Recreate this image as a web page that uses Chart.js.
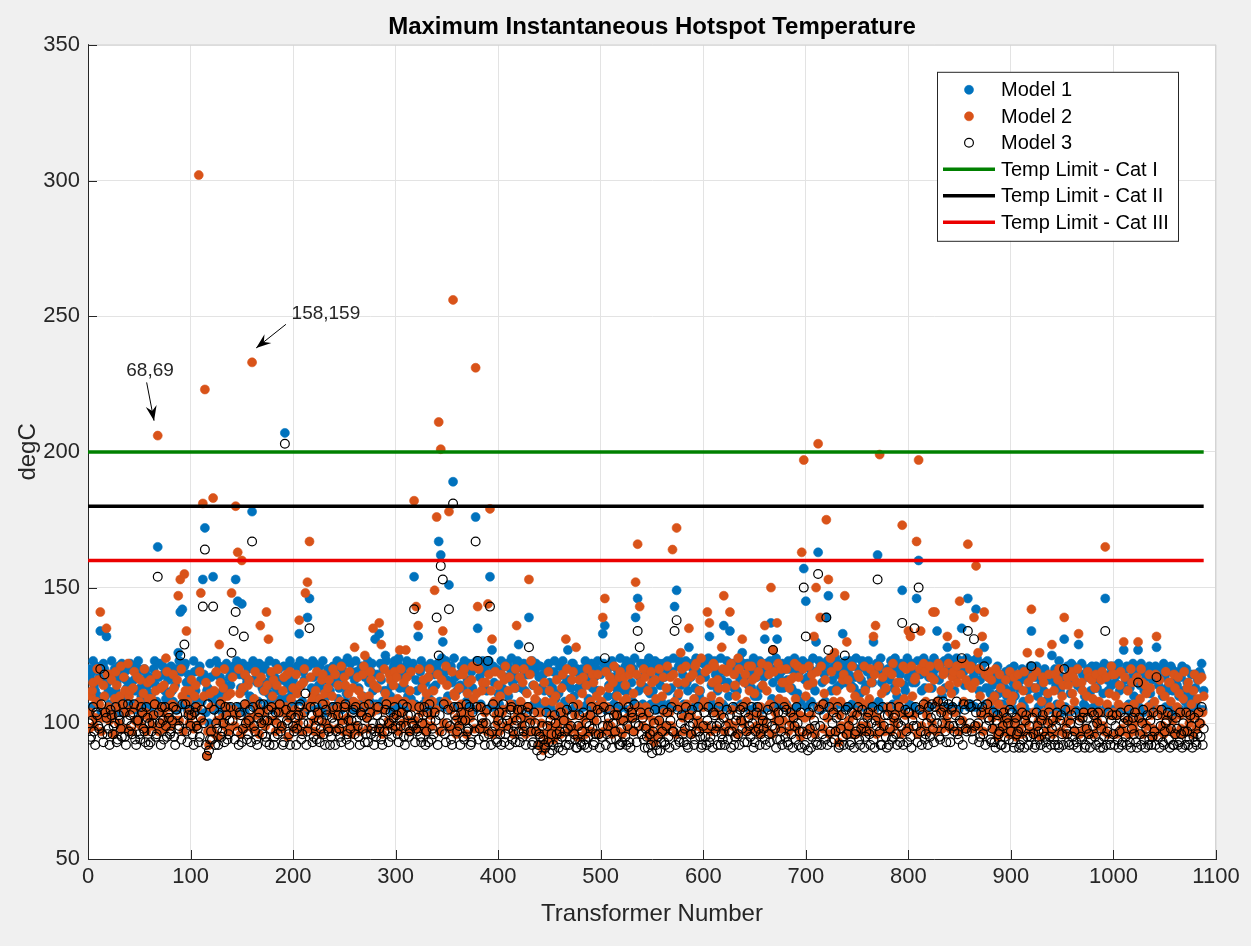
<!DOCTYPE html>
<html>
<head>
<meta charset="utf-8">
<title>Maximum Instantaneous Hotspot Temperature</title>
<script src="https://cdn.jsdelivr.net/npm/chart.js@4.4.1/dist/chart.umd.min.js"></script>
<style>
  html, body { margin: 0; padding: 0; background: #f0f0f0; }
  #wrap { width: 1251px; height: 946px; }
</style>
</head>
<body>
<div id="wrap"><canvas id="hotspotChart" width="1251" height="946"></canvas></div>
<script>
// values, degC
// *Odd arrays: transformers 1, 3, 5 ... 1087
// *Even arrays: transformers 2, 4, 6 ... 1088

const model1Odd = [
    120,106,123,112,108,117,104,122,110,115,
    107,123,105,112,118,104,122,109,116,106,
    122,107,116,105,123,113,106,120,108,111,
    106,116,123,108,117,105,121,112,107,119,
    121,108,114,105,123,119,107,122,105,116,
    106,123,112,105,121,108,118,104,113,122,
    109,105,123,107,117,104,112,122,106,114,
    105,118,123,106,113,122,104,115,121,107,
    123,106,115,122,105,112,120,107,123,109,
    105,122,108,116,104,121,109,113,123,106,
    107,113,104,123,108,116,105,121,107,123,
    122,105,114,106,123,109,104,118,106,121,
    106,123,113,105,122,108,124,107,119,105,
    123,107,105,121,109,106,123,108,122,106,
    107,105,122,108,112,123,106,110,104,123,
    106,124,108,105,113,123,106,109,122,107,
    112,106,123,107,115,105,109,121,106,114,
    122,108,124,106,123,110,105,115,124,106,
    106,114,105,123,108,122,106,113,105,123,
    121,107,123,105,112,123,106,121,108,105,
    107,123,105,112,122,106,124,107,113,123,
    105,113,122,106,118,105,123,107,122,106,
    121,105,112,104,122,106,113,123,104,111,
    106,123,108,116,105,113,122,106,120,105,
    112,106,123,107,115,122,105,112,123,107,
    119,122,105,110,106,123,107,113,105,124,
    106,112,123,105,122,108,124,106,112,122,
    107,122,105,124,107,112,123,105,122,108,
    122,106,123,107,113,124,106,110,123,105,
    107,123,112,105,122,106,124,107,112,106,
    122,107,124,108,105,123,106,113,124,107,
    106,123,110,105,122,106,112,124,107,122,
    107,122,105,113,124,106,110,123,105,117,
    122,106,123,109,105,124,107,113,122,106,
    107,123,105,112,124,106,122,108,123,116,
    106,122,108,124,112,106,123,105,121,108,
    123,106,112,105,124,107,114,122,106,123,
    106,123,107,113,124,105,111,123,106,114,
    123,107,115,105,122,108,124,106,113,105,
    106,123,107,124,110,106,122,105,112,124,
    107,122,106,115,123,105,112,124,107,122,
    106,113,124,107,122,105,110,123,106,124,
    123,106,112,124,105,123,107,114,124,106,
    107,123,106,124,112,105,122,107,123,106,
    105,118,104,121,107,115,104,119,106,120,
    108,121,105,115,104,120,106,117,104,121,
    119,104,121,106,114,104,120,107,105,118,
    105,120,107,123,104,115,106,121,104,122,
    121,105,114,104,122,107,106,120,105,121,
    106,121,105,116,104,122,106,112,121,105,
    120,104,122,106,113,105,121,107,104,122,
    105,121,106,122,104,113,105,121,107,105,
    121,105,120,104,122,106,112,105,120,104,
    104,119,105,121,104,120,106,110,104,118,
    106,104,118,105
];
const model1Even = [
    117,119,114,121,110,134,116,120,132,112,
    118,111,120,115,121,109,117,119,113,120,
    115,121,112,118,120,110,116,119,114,117,
    111,120,114,165,122,113,118,109,116,120,
    112,117,120,126,141,142,121,115,118,110,
    114,119,108,120,116,153,172,112,100,117,
    154,118,111,121,109,115,120,113,117,119,
    121,153,145,118,144,112,117,120,110,178,
    116,120,108,119,113,121,115,111,118,114,
    117,112,120,109,116,207,115,121,110,116,
    118,121,133,114,119,122,139,146,113,117,
    110,118,121,113,107,116,120,112,119,115,
    121,109,117,120,114,111,118,122,108,116,
    119,113,120,110,117,121,115,119,112,131,
    118,133,116,120,125,112,119,114,121,117,
    122,113,119,117,121,110,118,120,154,116,
    132,119,114,121,109,117,122,113,118,120,
    167,162,130,119,116,151,121,189,117,112,
    118,121,113,120,116,109,119,122,176,135,
    117,120,114,119,122,154,127,115,120,111,
    119,113,121,117,110,120,115,118,122,129,
    116,120,112,118,139,121,114,119,108,117,
    113,118,106,120,115,111,119,109,117,121,
    118,114,120,127,116,122,110,119,113,117,
    120,115,118,109,121,113,117,120,112,118,
    133,136,119,114,121,117,110,120,116,113,
    118,121,112,119,115,120,139,146,117,114,
    120,113,118,111,121,116,108,119,114,117,
    117,120,112,118,119,143,149,121,114,118,
    121,115,128,117,120,113,119,110,118,122,
    117,120,132,114,121,118,112,119,116,136,
    119,115,134,120,113,118,121,116,126,117,
    121,114,118,120,110,117,122,113,119,131,
    118,121,137,115,120,131,117,119,113,120,
    116,120,113,121,118,111,119,120,157,145,
    117,120,114,119,130,163,121,115,118,139,
    147,120,116,121,113,118,119,133,115,120,
    118,114,121,117,110,120,116,122,113,119,
    120,117,130,119,162,121,115,118,112,120,
    116,121,113,119,120,118,149,114,121,117,
    120,115,119,146,160,118,121,113,120,117,
    121,118,120,134,116,122,119,113,128,120,
    118,122,117,120,121,135,119,123,146,116,
    121,118,142,120,116,119,128,113,117,111,
    114,109,116,111,118,107,113,110,117,112,
    115,110,118,113,116,108,119,112,117,134,
    113,117,110,119,115,112,118,109,116,125,
    118,114,119,112,117,131,115,120,111,118,
    116,120,129,113,118,110,117,119,112,116,
    119,113,117,120,111,146,116,118,114,121,
    115,118,112,119,127,116,120,113,117,110,
    118,127,114,119,112,117,120,111,116,119,
    128,114,118,110,117,113,119,121,112,116,
    114,110,117,112,108,115,111,118,109,113,
    116,119,122,112
];

const model2Odd = [
    98,110,115,102,120,107,97,114,104,118,
    101,116,96,119,106,110,98,117,104,122,
    112,97,119,106,100,116,103,120,97,109,
    116,99,107,118,97,113,104,98,119,106,
    99,118,106,116,101,120,97,112,108,100,
    116,98,114,106,119,101,110,115,97,111,
    98,112,119,95,115,102,120,106,97,111,
    117,99,103,120,96,113,118,101,116,99,
    98,119,106,96,117,104,99,114,101,119,
    116,97,120,104,98,117,106,95,119,104,
    98,118,100,114,97,120,106,98,117,110,
    97,119,103,96,118,111,99,116,104,120,
    118,98,106,121,97,114,102,119,96,108,
    99,117,97,110,121,107,98,119,104,114,
    105,98,117,96,120,108,101,116,99,119,
    117,97,120,100,108,117,97,119,106,101,
    98,120,104,116,97,108,120,99,112,105,
    118,97,116,100,121,107,98,119,111,96,
    99,118,104,120,96,115,102,121,98,111,
    120,98,115,104,97,118,112,96,119,100,
    97,118,105,121,99,117,106,96,120,103,
    117,99,120,96,106,118,101,114,97,112,
    104,96,115,93,119,99,108,97,116,101,
    96,118,101,120,97,109,119,103,95,116,
    99,117,96,120,103,97,115,106,118,96,
    108,97,119,100,117,96,121,103,97,119,
    96,117,109,98,120,102,97,118,106,115,
    99,117,103,95,119,101,116,96,120,99,
    117,97,121,104,99,118,96,115,106,120,
    97,121,103,117,96,109,122,101,116,98,
    108,99,120,97,115,121,98,113,103,120,
    97,119,100,122,99,114,96,120,106,100,
    118,97,112,121,98,117,103,96,122,101,
    98,121,107,96,119,101,122,98,115,108,
    120,97,116,103,122,98,117,95,120,102,
    97,121,103,115,96,119,106,121,98,116,
    102,96,119,108,97,121,103,99,118,96,
    116,98,121,103,96,118,108,97,121,99,
    97,120,104,118,96,121,100,117,97,119,
    119,97,122,99,115,104,96,121,103,98,
    98,121,103,117,96,120,99,122,108,97,
    121,100,116,97,122,105,98,119,101,122,
    98,117,104,121,97,118,101,122,98,114,
    121,98,115,99,120,103,97,118,104,119,
    116,98,120,95,118,102,97,116,101,119,
    98,117,95,118,103,96,119,100,115,97,
    117,96,119,101,95,117,104,97,118,100,
    96,118,102,120,97,114,96,117,101,119,
    117,97,120,96,115,104,98,119,96,116,
    96,118,99,104,119,97,117,96,103,118,
    118,96,107,119,97,117,101,96,120,99,
    97,117,101,120,96,114,99,118,103,95,
    118,97,116,103,96,119,98,115,97,118,
    96,117,103,96,119,97,115,102,96,118,
    98,116,100,104
];
const model2Even = [
    104,112,99,108,116,141,102,110,135,106,
    118,103,109,114,100,121,107,112,98,110,
    105,113,101,117,108,99,111,104,115,102,
    109,103,112,206,106,100,114,124,102,111,
    107,113,101,147,153,110,155,134,104,112,
    103,110,99,302,148,181,223,88,92,106,
    183,96,101,129,108,113,99,110,104,148,
    105,180,163,111,160,98,107,114,102,233,
    109,103,115,136,100,112,141,131,106,110,
    101,114,107,99,112,104,118,102,109,113,
    105,111,138,103,115,148,152,167,108,101,
    112,104,109,116,100,107,113,98,110,105,
    103,114,108,101,117,106,111,99,113,128,
    107,112,104,118,125,102,110,116,135,106,
    113,137,129,105,111,99,118,108,114,103,
    109,127,104,115,127,101,112,107,182,143,
    136,106,113,100,111,117,103,108,149,176,
    211,201,134,108,114,178,105,256,110,102,
    113,107,118,101,111,104,116,109,231,143,
    106,112,100,115,144,179,131,108,103,114,
    110,104,116,99,112,107,101,113,136,105,
    108,115,102,111,153,123,97,109,104,92,
    100,90,108,96,112,103,94,110,99,106,
    113,104,131,100,109,116,98,128,107,95,
    111,102,114,97,108,118,101,110,105,112,
    139,146,106,113,99,115,104,110,117,101,
    108,114,102,118,105,111,152,166,143,103,
    120,106,112,98,115,93,109,101,96,110,
    104,113,99,117,164,108,172,111,126,102,
    115,107,135,103,118,121,99,112,124,106,
    119,141,137,110,122,104,116,108,128,147,
    113,120,141,105,118,110,124,101,131,115,
    108,121,103,116,111,99,119,106,114,136,
    112,118,150,127,104,137,109,120,101,115,
    106,113,100,117,109,121,103,163,197,110,
    114,98,118,132,150,203,139,107,111,175,
    153,124,105,126,112,93,108,116,147,130,
    101,113,96,110,104,117,99,107,112,103,
    109,115,132,136,102,199,111,98,113,106,
    104,118,101,112,107,115,173,109,120,134,
    132,110,116,167,197,134,106,119,103,113,
    117,141,141,108,121,112,118,104,132,114,
    111,119,129,115,145,122,108,116,166,120,
    113,139,158,126,110,132,141,105,117,108,
    102,110,97,107,113,99,105,111,96,108,
    110,101,114,98,106,112,103,126,109,142,
    104,113,99,126,108,115,101,111,106,129,
    112,103,116,107,110,139,100,114,105,111,
    108,115,133,102,112,98,110,117,104,109,
    113,101,108,116,99,165,107,111,121,104,
    110,103,114,98,130,106,112,101,115,107,
    104,130,109,115,100,111,106,113,98,108,
    132,105,112,99,110,103,115,108,101,113,
    106,111,98,109,104,113,100,107,112,103,
    109,104,117,110
];

const model3Odd = [
    100,95,106,92,103,98,107,93,104,96,
    92,103,99,106,94,101,95,104,92,107,
    103,96,107,92,101,94,104,97,106,92,
    93,100,107,96,104,92,101,106,95,102,
    97,106,92,103,99,94,101,107,93,105,
    103,92,106,98,95,105,100,92,107,94,
    94,105,100,92,107,97,93,103,96,106,
    101,94,106,92,103,98,107,94,101,93,
    106,97,92,104,100,107,95,101,92,106,
    92,104,96,107,99,93,105,100,92,106,
    97,92,103,107,96,104,92,100,106,93,
    106,94,101,98,107,92,103,97,95,106,
    92,106,98,93,103,107,96,92,101,105,
    106,99,92,103,106,96,93,104,98,92,
    95,106,100,92,97,107,93,104,98,106,
    103,93,99,107,92,106,95,103,99,93,
    97,106,93,103,92,104,107,94,96,101,
    92,103,97,107,93,105,99,92,106,101,
    106,92,101,94,107,98,92,104,97,106,
    94,106,100,92,105,96,92,107,99,93,
    104,92,107,96,101,92,106,97,93,105,
    93,105,97,92,106,100,92,104,97,92,
    95,99,92,104,93,101,90,103,96,91,
    104,90,97,105,92,99,106,94,91,103,
    92,104,94,91,99,106,92,96,105,91,
    95,106,92,99,105,91,103,94,106,92,
    93,104,92,106,91,102,107,93,99,104,
    102,91,95,104,92,97,105,90,101,93,
    105,92,104,91,106,97,92,105,93,103,
    93,106,91,99,105,92,97,106,95,92,
    104,92,106,95,91,103,99,106,92,94,
    92,105,97,91,106,95,103,92,101,106,
    104,93,99,106,91,97,106,92,103,98,
    92,105,93,99,106,91,104,94,92,106,
    105,92,104,91,99,106,92,104,97,92,
    96,104,91,106,99,92,105,92,107,94,
    92,106,93,104,97,106,92,103,92,105,
    106,92,104,91,97,106,92,105,91,97,
    104,92,106,91,99,105,92,106,103,91,
    92,106,95,103,92,106,99,92,105,93,
    104,91,99,106,93,105,92,107,96,92,
    95,107,93,103,108,94,100,106,93,107,
    93,106,97,108,94,100,92,105,97,107,
    106,94,99,107,93,104,96,92,107,101,
    93,104,91,103,97,92,104,91,100,105,
    104,91,102,97,92,104,91,103,92,95,
    102,91,104,97,92,103,95,91,104,92,
    101,92,104,91,103,92,105,96,92,103,
    92,104,91,101,94,104,92,102,91,104,
    103,92,104,91,101,95,92,104,92,103,
    92,103,91,104,93,102,92,105,91,102,
    104,91,102,92,105,91,103,94,92,104,
    92,103,91,105,92,100,104,91,103,92,
    102,92,104,91,97,104,92,103,91,102,
    92,104,95,92
];
const model3Even = [
    94,101,97,104,99,120,96,118,102,98,
    105,96,100,93,103,98,107,95,101,97,
    99,104,94,101,96,106,98,93,102,100,
    97,103,95,154,100,106,94,99,104,96,
    101,95,105,98,125,107,129,97,103,99,
    96,104,99,93,102,143,164,88,90,97,
    143,92,98,103,95,100,106,94,101,126,
    134,141,97,104,93,132,100,96,105,167,
    99,94,102,107,96,101,93,105,98,103,
    95,100,104,97,92,203,101,96,103,99,
    102,98,106,94,100,111,97,135,103,95,
    99,104,93,101,96,105,98,92,102,100,
    97,103,95,100,106,94,101,98,104,96,
    101,95,104,98,93,102,107,96,100,97,
    103,98,94,101,105,97,100,95,102,99,
    96,101,104,95,99,103,97,100,142,98,
    102,95,100,106,97,93,101,98,104,139,
    125,158,153,96,100,142,94,181,103,97,
    99,104,95,101,97,106,93,100,167,123,
    98,102,95,100,123,143,97,104,94,101,
    96,100,93,103,98,105,94,99,101,97,
    102,95,99,104,128,97,93,100,90,96,
    88,94,91,99,89,96,92,100,93,97,
    95,101,92,98,94,103,96,91,99,93,
    97,92,100,95,103,98,93,101,96,104,
    99,124,96,102,94,100,97,103,92,98,
    101,95,99,93,104,97,100,134,128,96,
    94,98,91,96,89,100,92,95,90,97,
    93,99,95,101,97,134,138,94,100,96,
    98,92,102,96,100,94,103,97,91,99,
    95,101,93,99,104,97,92,100,96,102,
    99,94,103,97,92,101,96,105,98,93,
    97,102,95,100,93,104,98,96,101,94,
    100,96,103,127,98,94,101,97,104,95,
    93,99,96,102,94,100,97,91,150,132,
    90,98,95,101,93,155,99,96,103,139,
    127,97,100,94,102,91,98,95,125,96,
    99,93,101,96,103,94,98,100,95,102,
    96,100,94,101,153,97,92,99,95,103,
    98,94,102,96,100,93,137,101,97,104,
    95,101,135,99,150,97,103,94,100,106,
    102,98,106,100,95,104,108,97,103,99,
    105,99,103,96,101,124,107,98,134,100,
    97,131,104,100,95,106,121,99,102,94,
    98,93,101,96,92,99,95,102,94,97,
    93,100,96,91,98,94,101,95,99,121,
    96,92,99,94,101,97,93,100,95,98,
    94,99,92,101,96,120,98,93,100,95,
    97,93,100,95,102,91,98,96,94,99,
    95,100,93,98,91,134,97,94,101,96,
    99,94,97,92,100,95,101,93,98,96,
    93,115,96,100,94,98,92,101,95,97,
    117,95,99,93,97,101,94,98,92,96,
    98,93,96,100,92,97,94,99,95,93,
    96,100,106,98
];

const modelNames = ['Model 1', 'Model 2', 'Model 3'];

const limitNames = ['Temp Limit - Cat I', 'Temp Limit - Cat II', 'Temp Limit - Cat III'];
const limitValues = [200, 180, 160];
const limitSpan = [0, 1088];

const FONT = "'Liberation Sans', Arial, Helvetica, sans-serif";
const AXIS_COLOR = '#262626';

// odd transformers 1,3,5.. and even transformers 2,4,6.. back into one series
function toPoints(odd, even) {
    const pts = [];
    odd.forEach((v, i) => pts.push({ x: 2 * i + 1, y: v }));
    even.forEach((v, i) => pts.push({ x: 2 * i + 2, y: v }));
    return pts.sort((a, b) => a.x - b.x);
}

// annotation text + arrow, all in data units
const notes = [
    { text: '68,69', at: [60.5, 230], from: [57.2, 225.6], to: [64.4, 211.5] },
    { text: '158,159', at: [232, 251], from: [193, 247], to: [164, 238.3] }
];

// figure background and white axes area
const figureBackground = {
    id: 'figureBackground',
    beforeDraw(chart) {
        const { ctx, chartArea: a } = chart;
        ctx.save();
        ctx.fillStyle = '#f0f0f0';
        ctx.fillRect(0, 0, chart.width, chart.height);
        ctx.fillStyle = '#ffffff';
        ctx.fillRect(a.left, a.top, a.right - a.left, a.bottom - a.top);
        ctx.restore();
    }
};

// matlab style: ticks pointing inwards, faint top/right edge
const matlabAxes = {
    id: 'matlabAxes',
    beforeDatasetsDraw(chart) {
        const { ctx, chartArea: a, scales: { x, y } } = chart;
        ctx.save();
        ctx.lineWidth = 1;
        ctx.strokeStyle = '#d4d4d4';
        ctx.beginPath();
        ctx.moveTo(a.left, a.top + 0.5);
        ctx.lineTo(a.right, a.top + 0.5);
        ctx.moveTo(a.right - 0.5, a.top);
        ctx.lineTo(a.right - 0.5, a.bottom);
        ctx.stroke();

        ctx.strokeStyle = AXIS_COLOR;
        ctx.beginPath();
        x.ticks.forEach(t => {
            const px = Math.round(x.getPixelForValue(t.value)) + 0.5;
            ctx.moveTo(px, a.bottom);
            ctx.lineTo(px, a.bottom - 9);
        });
        y.ticks.forEach(t => {
            const py = Math.round(y.getPixelForValue(t.value)) + 0.5;
            ctx.moveTo(a.left, py);
            ctx.lineTo(a.left + 9, py);
        });
        ctx.stroke();
        ctx.restore();
    }
};

// text arrows pointing at transformers 68,69 and 158,159
const arrowNotes = {
    id: 'arrowNotes',
    afterDatasetsDraw(chart) {
        const { ctx, scales: { x, y } } = chart;
        ctx.save();
        ctx.strokeStyle = '#000000';
        ctx.font = `19px ${FONT}`;
        ctx.textAlign = 'center';
        ctx.textBaseline = 'middle';
        notes.forEach(n => {
            ctx.fillStyle = '#262626';
            ctx.fillText(n.text, x.getPixelForValue(n.at[0]), y.getPixelForValue(n.at[1]));
            const x0 = x.getPixelForValue(n.from[0]), y0 = y.getPixelForValue(n.from[1]);
            const x1 = x.getPixelForValue(n.to[0]), y1 = y.getPixelForValue(n.to[1]);
            const ang = Math.atan2(y1 - y0, x1 - x0);
            ctx.lineWidth = 1;
            ctx.beginPath();
            ctx.moveTo(x0, y0);
            ctx.lineTo(x1, y1);
            ctx.stroke();
            // filled head with a notch
            const len = 15, half = 5.5;
            const bx = x1 - len * Math.cos(ang), by = y1 - len * Math.sin(ang);
            const nx = x1 - len * 0.65 * Math.cos(ang), ny = y1 - len * 0.65 * Math.sin(ang);
            ctx.fillStyle = '#000000';
            ctx.beginPath();
            ctx.moveTo(x1, y1);
            ctx.lineTo(bx - half * Math.sin(ang), by + half * Math.cos(ang));
            ctx.lineTo(nx, ny);
            ctx.lineTo(bx + half * Math.sin(ang), by - half * Math.cos(ang));
            ctx.closePath();
            ctx.fill();
        });
        ctx.restore();
    }
};

// legend box inside the upper right corner
const insideLegend = {
    id: 'insideLegend',
    afterDraw(chart) {
        const { ctx, chartArea: a } = chart;
        const left = a.right - 279, top = a.top + 27, w = 241, h = 169;
        ctx.save();
        ctx.fillStyle = '#ffffff';
        ctx.fillRect(left, top, w, h);
        ctx.strokeStyle = '#262626';
        ctx.lineWidth = 1;
        ctx.strokeRect(left + 0.5, top + 0.5, w, h);
        ctx.font = `20px ${FONT}`;
        ctx.textBaseline = 'middle';
        ctx.textAlign = 'left';
        chart.data.datasets.forEach((ds, i) => {
            const cy = top + 18 + i * 26.5;
            if (ds.showLine) {
                ctx.strokeStyle = ds.borderColor;
                ctx.lineWidth = ds.borderWidth;
                ctx.beginPath();
                ctx.moveTo(left + 6, cy);
                ctx.lineTo(left + 58, cy);
                ctx.stroke();
            } else {
                ctx.beginPath();
                ctx.arc(left + 32, cy, ds.pointRadius, 0, Math.PI * 2);
                if (ds.backgroundColor !== 'rgba(0,0,0,0)') {
                    ctx.fillStyle = ds.backgroundColor;
                    ctx.fill();
                }
                ctx.strokeStyle = ds.borderColor;
                ctx.lineWidth = ds.borderWidth;
                ctx.stroke();
            }
            ctx.fillStyle = '#000000';
            ctx.fillText(ds.label, left + 64, cy + 1);
        });
        ctx.restore();
    }
};

const pointStyles = [
    { fill: 'rgb(0, 114, 189)', border: 'rgb(0, 114, 189)', width: 0.6, radius: 4.5 },
    { fill: 'rgb(217, 83, 25)', border: 'rgb(217, 83, 25)', width: 0.6, radius: 4.5 },
    { fill: 'rgba(0,0,0,0)', border: '#000000', width: 1.2, radius: 4.4 }
];
const limitColors = ['rgb(0, 128, 0)', 'rgb(0, 0, 0)', 'rgb(235, 0, 0)'];

const modelSeries = [[model1Odd, model1Even], [model2Odd, model2Even], [model3Odd, model3Even]];
const datasets = [];
modelSeries.forEach(([odd, even], i) => {
    datasets.push({
        label: modelNames[i],
        data: toPoints(odd, even),
        backgroundColor: pointStyles[i].fill,
        borderColor: pointStyles[i].border,
        borderWidth: pointStyles[i].width,
        pointRadius: pointStyles[i].radius,
        pointHoverRadius: pointStyles[i].radius,
        showLine: false,
        order: 3 - i
    });
});
limitValues.forEach((v, i) => {
    datasets.push({
        type: 'line',
        label: limitNames[i],
        data: limitSpan.map(t => ({ x: t, y: v })),
        borderColor: limitColors[i],
        backgroundColor: limitColors[i],
        borderWidth: 3.5,
        pointRadius: 0,
        showLine: true,
        fill: false,
        order: 0
    });
});

new Chart(document.getElementById('hotspotChart'), {
    type: 'scatter',
    data: { datasets: datasets },
    options: {
        responsive: false,
        animation: false,
        devicePixelRatio: 1,
        layout: { padding: { right: 35 } },
        plugins: {
            legend: { display: false },
            tooltip: { enabled: false },
            title: {
                display: true,
                fullSize: false,
                text: 'Maximum Instantaneous Hotspot Temperature',
                color: '#000000',
                font: { family: FONT, size: 24, weight: 'bold' },
                padding: { top: 13, bottom: 3 }
            }
        },
        scales: {
            x: {
                type: 'linear',
                min: 0,
                max: 1100,
                afterFit(scale) { scale.height = 87; },
                ticks: {
                    stepSize: 100,
                    color: AXIS_COLOR,
                    padding: 5,
                    maxRotation: 0,
                    font: { family: FONT, size: 22 },
                    callback: value => String(value)
                },
                grid: { color: '#e3e3e3', drawTicks: false },
                border: { color: AXIS_COLOR, width: 1 },
                title: {
                    display: true,
                    text: 'Transformer Number',
                    color: AXIS_COLOR,
                    font: { family: FONT, size: 24 },
                    padding: { top: 0, bottom: 17 }
                }
            },
            y: {
                type: 'linear',
                min: 50,
                max: 350,
                afterFit(scale) { scale.width = 88; },
                ticks: {
                    stepSize: 50,
                    color: AXIS_COLOR,
                    padding: 8,
                    font: { family: FONT, size: 22 },
                    callback: value => String(value)
                },
                grid: { color: '#e3e3e3', drawTicks: false },
                border: { color: AXIS_COLOR, width: 1 },
                title: {
                    display: true,
                    text: 'degC',
                    color: AXIS_COLOR,
                    font: { family: FONT, size: 24 },
                    padding: { top: 14, bottom: 0 }
                }
            }
        }
    },
    plugins: [figureBackground, matlabAxes, arrowNotes, insideLegend]
});
</script>
</body>
</html>
